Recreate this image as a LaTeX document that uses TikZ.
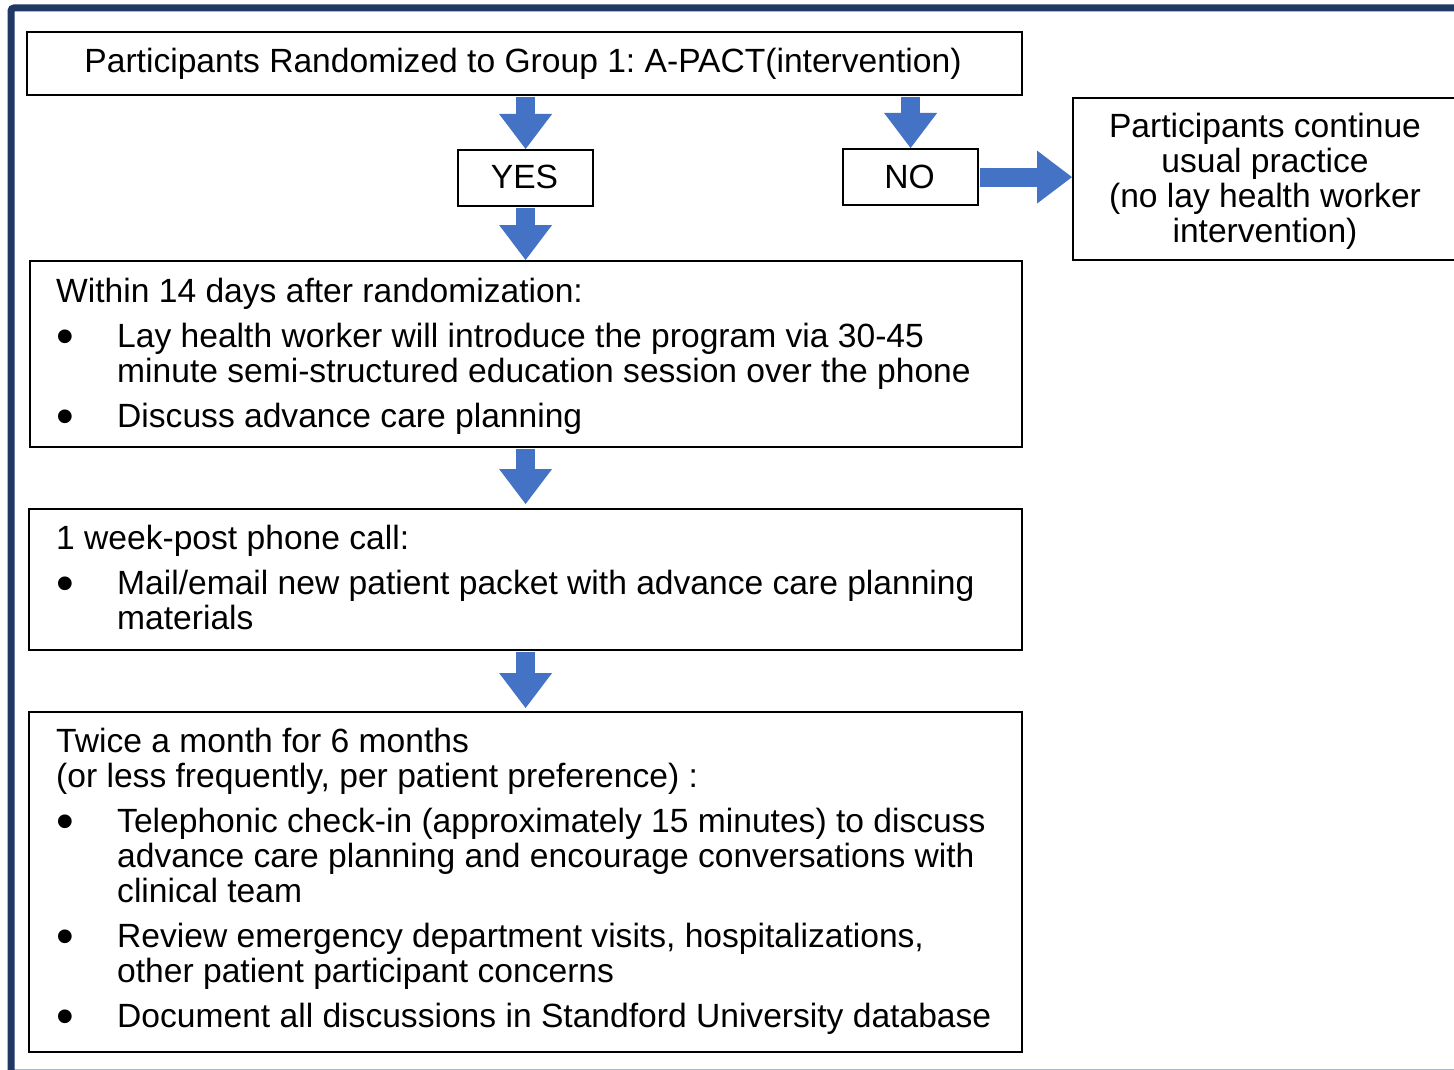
\documentclass[tikz,border=0pt]{standalone}
\usepackage{fontspec}
\setmainfont{Liberation Sans}
\usetikzlibrary{arrows.meta}
\definecolor{frameblue}{HTML}{203864}
\definecolor{arrowblue}{HTML}{4472C4}
\frenchspacing
\newcommand\bodyfont{\fontsize{33.6}{35}\selectfont\frenchspacing}
\newcommand\bul{\makebox[61pt][l]{\hspace{0.5pt}\raisebox{-6pt}{\scalebox{1.5}{\textbullet}}}}
\newcommand\ind{\hspace*{61pt}}
\tikzset{
  box/.style={draw=black, line width=2.2pt, anchor=north west, inner sep=0pt},
  blockarrow/.style={draw=arrowblue, line width=19pt, shorten <=1.2pt,
    -{Triangle[width=53pt,length=35pt,line width=0pt]}},
  txt/.style={inner sep=0pt, anchor=base west, font=\bodyfont},
}
\begin{document}
\begin{tikzpicture}[x=1pt,y=-1pt]
\useasboundingbox (0,0) rectangle (1454,1070);
\fill[white] (0,0) rectangle (1454,1070);
\draw[frameblue, line width=7pt, rounded corners=3pt] (11,8) rectangle (1480,1073);

% boxes
\node[box, minimum width=995pt, minimum height=63pt] (b1) at (26,31) {};
\node[box, minimum width=135pt, minimum height=56pt] (yes) at (457,149) {};
\node[box, minimum width=135pt, minimum height=56pt] (no) at (842,148) {};
\node[box, minimum width=400pt, minimum height=162pt] (r) at (1072,97) {};
\node[box, minimum width=992pt, minimum height=186pt] (b2) at (29,260) {};
\node[box, minimum width=993pt, minimum height=141pt] (b3) at (28,508) {};
\node[box, minimum width=993pt, minimum height=340pt] (b4) at (28,711) {};

% texts
\node[txt, anchor=base] (t1) at (523,73) {Participants Randomized to Group 1: A-PACT(intervention)};
\node[txt, anchor=base] (tyes) at (524.5,188) {YES};
\node[txt, anchor=base] (tno) at (909.5,188) {NO};
\node[txt, anchor=base] (tr) at (1265,138) {\parbox[t]{380pt}{\bodyfont\centering
  Participants continue\\ usual practice\\ (no lay health worker\\ intervention)}};
\node[txt] (t2) at (56,302) {\parbox[t]{980pt}{\bodyfont\raggedright
  Within 14 days after randomization:\\[10pt]
  \bul Lay health worker will introduce the program via 30-45\\
  \ind minute semi-structured education session over the phone\\[10pt]
  \bul Discuss advance care planning}};
\node[txt] (t3) at (56,549) {\parbox[t]{980pt}{\bodyfont\raggedright
  1 week-post phone call:\\[10pt]
  \bul Mail/email new patient packet with advance care planning\\
  \ind materials}};
\node[txt] (t4) at (56,752) {\parbox[t]{980pt}{\bodyfont\raggedright
  Twice a month for 6 months\\
  (or less frequently, per patient preference) :\\[10pt]
  \bul Telephonic check-in (approximately 15 minutes) to discuss\\
  \ind advance care planning and encourage conversations with\\
  \ind clinical team\\[10pt]
  \bul Review emergency department visits, hospitalizations,\\
  \ind other patient participant concerns\\[10pt]
  \bul Document all discussions in Standford University database}};

% arrows
\draw[blockarrow] (yes.north |- b1.south) -- (yes.north);
\draw[blockarrow] (yes.south) -- (yes.south |- b2.north);
\draw[blockarrow] (no.north |- b1.south) -- (no.north);
\draw[blockarrow] (no.east) -- (no.east -| r.west);
\draw[blockarrow, shorten >=4pt] (b2.south -| yes.south) -- (b3.north -| yes.south);
\draw[blockarrow, shorten >=3pt] (b3.south -| yes.south) -- (b4.north -| yes.south);
\end{tikzpicture}
\end{document}
